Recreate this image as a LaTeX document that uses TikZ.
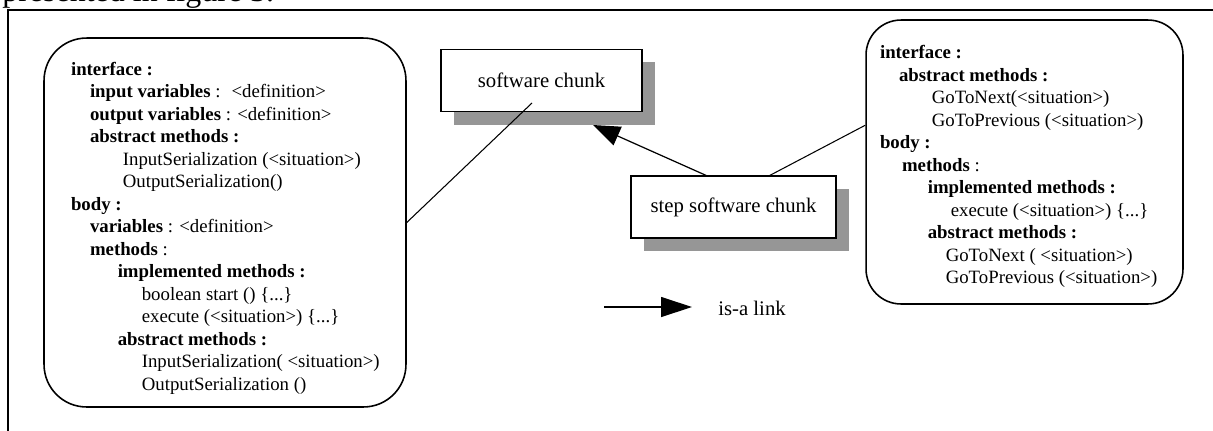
\documentclass[tikz,border=0pt]{standalone}
\usepackage{fontspec}
\setmainfont{Liberation Serif}
\usetikzlibrary{arrows.meta,shadows}
\definecolor{shadowgray}{RGB}{150,150,150}

\begin{document}
\begin{tikzpicture}[x=0.02cm, y=-0.02cm]

% Fix the overall size of the picture
\useasboundingbox (0,0) rectangle (1213,430);

% Define styles for chunks and class boxes
\tikzstyle{chunk} = [draw, fill=white, line width=0.7pt, font=\fontsize{11.8}{14}\selectfont, minimum height=1.25cm, drop shadow={shadow xshift=7.4pt, shadow yshift=-7.4pt, fill=shadowgray, opacity=1}]
\tikzstyle{classbox} = [draw, rounded corners=0.85cm, line width=0.9pt, align=flush left, font=\fontsize{10.7}{12.8}\selectfont]

%Define links: plain lines and is-a arrows
\tikzstyle{link} = [line width=0.6pt]
\tikzstyle{isa} = [line width=0.7pt, -{Triangle[length=0.54cm, width=0.4cm]}]

% Page text and frame
\node[anchor=base west, inner sep=0pt, font=\fontsize{18.2}{20}\selectfont] (caption) at (2,1) {presented in figure 3.};
\draw[line width=0.9pt] (8,440) -- (8,10) -- (1225,10);

\node[classbox, minimum width=7.24cm, minimum height=7.38cm, text width=6.16cm, inner xsep=0.54cm] (fields) at (225,222.5) {
\rule{0pt}{14pt}\textbf{interface :}\\
\hspace*{10.8pt}\textbf{input variables} :~ <definition>\\
\hspace*{10.8pt}\textbf{output variables} : <definition>\\
\hspace*{10.8pt}\textbf{abstract methods :}\\
\hspace*{29.5pt}InputSerialization (<situation>)\\
\hspace*{29.5pt}OutputSerialization()\\
\textbf{body :}\\
\hspace*{10.8pt}\textbf{variables} : <definition>\\
\hspace*{10.8pt}\textbf{methods} :\\
\hspace*{26.6pt}\textbf{implemented methods :}\\
\hspace*{40.3pt}boolean start () \{...\}\\
\hspace*{40.3pt}execute (<situation>) \{...\}\\
\hspace*{26.6pt}\textbf{abstract methods :}\\
\hspace*{40.3pt}\mbox{InputSerialization( <situation>)}\\
\hspace*{40.3pt}OutputSerialization ()};

\node[classbox, rounded corners=0.7cm, minimum width=6.34cm, minimum height=5.68cm, text width=5.78cm, inner xsep=0.28cm] (steps) at (1024.5,162) {
\rule{0pt}{13pt}\textbf{interface :}\\
\hspace*{10.8pt}\textbf{abstract methods :}\\
\hspace*{29.5pt}GoToNext(<situation>)\\
\hspace*{29.5pt}GoToPrevious (<situation>)\\
\textbf{body :}\\
\hspace*{12.5pt}\textbf{methods} :\\
\hspace*{27.2pt}\textbf{implemented methods :}\\
\hspace*{40.3pt}execute (<situation>) \{...\}\\
\hspace*{27.2pt}\textbf{abstract methods :}\\
\hspace*{37.4pt}GoToNext ( <situation>)\\
\hspace*{37.4pt}GoToPrevious (<situation>)};

\node[chunk, minimum width=4.02cm] (chunk) at (541.5,80.5) {software chunk};
\node[chunk, minimum width=4.1cm, minimum height=1.24cm] (step) at (733.5,207) {step software chunk};

% Legend
\node[anchor=west, inner sep=0pt, font=\fontsize{11.8}{14}\selectfont] (legend) at (718,308) {is-a link};
\coordinate (legstart) at (604,307);
\coordinate (legtip) at (692,307);

% Ends of the links
\coordinate (chunkin) at (532,103);
\coordinate (chunktip) at (593,125);

\draw[link] (fields.east) -- (chunkin);
\draw[isa] (step.131) -- (chunktip);
\draw[link] (steps.167) -- (step.41);
\draw[isa, -{Triangle[length=0.62cm, width=0.4cm]}] (legstart) -- (legtip);

\end{tikzpicture}
\end{document}
